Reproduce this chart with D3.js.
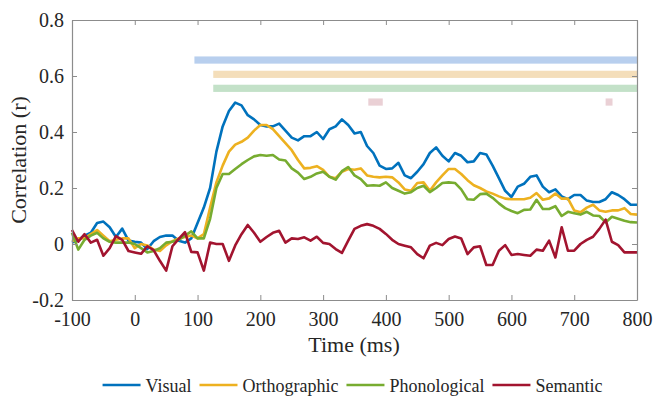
<!DOCTYPE html>
<html><head><meta charset="utf-8">
<script src="https://cdn.jsdelivr.net/npm/d3@7"></script>
<style>
body{margin:0;background:#fff}
svg{display:block}
text{font-family:"Liberation Serif","Times New Roman",serif;fill:#262626}
</style>
</head><body>
<svg id="chart" width="653" height="396"></svg>
<script>
// ---------- DATA ----------
const times = [-100,-90,-80,-70,-60,-50,-40,-30,-20,-10,0,10,20,30,40,50,60,70,80,90,
100,110,120,130,140,150,160,170,180,190,200,210,220,230,240,250,260,270,280,290,
300,310,320,330,340,350,360,370,380,390,400,410,420,430,440,450,460,470,480,490,
500,510,520,530,540,550,560,570,580,590,600,610,620,630,640,650,660,670,680,690,
700,710,720,730,740,750,760,770,780,790,800];

const visual = [0.005,0.015,0.03,0.04,0.075,0.08,0.06,0.025,0.055,0.012,0.008,0.005,-0.018,0.01,0.025,0.03,0.03,0.012,0.005,0.02,
0.075,0.13,0.2,0.33,0.42,0.475,0.505,0.495,0.46,0.445,0.425,0.42,0.42,0.43,0.405,0.38,0.37,0.385,0.385,0.40,
0.375,0.41,0.42,0.445,0.425,0.395,0.40,0.35,0.325,0.28,0.268,0.27,0.29,0.245,0.235,0.258,0.285,0.325,0.345,0.315,
0.295,0.325,0.315,0.292,0.295,0.325,0.32,0.28,0.235,0.19,0.168,0.205,0.215,0.24,0.245,0.205,0.185,0.195,0.17,0.16,
0.175,0.175,0.155,0.15,0.15,0.16,0.185,0.175,0.16,0.14,0.14];

const orthographic = [0.01,0.02,0.02,0.035,0.05,0.03,0.01,0.015,0.02,0.02,-0.015,0.0,-0.005,-0.02,-0.025,-0.005,0.01,0.02,0.025,0.03,
0.02,0.035,0.13,0.22,0.28,0.33,0.355,0.365,0.38,0.405,0.425,0.425,0.41,0.385,0.36,0.335,0.3,0.27,0.272,0.278,
0.265,0.24,0.235,0.258,0.268,0.265,0.27,0.245,0.24,0.238,0.24,0.238,0.22,0.195,0.19,0.218,0.22,0.19,0.22,0.245,
0.268,0.268,0.25,0.228,0.21,0.2,0.188,0.18,0.17,0.162,0.16,0.16,0.16,0.165,0.182,0.158,0.163,0.18,0.162,0.162,
0.12,0.113,0.13,0.14,0.12,0.115,0.12,0.12,0.128,0.107,0.105];

const phonological = [0.04,-0.02,0.015,0.03,0.04,0.02,0.008,0.005,0.005,0.005,0.0,-0.015,-0.03,-0.025,-0.015,0.005,0.008,0.015,0.03,0.045,
0.02,0.02,0.09,0.2,0.25,0.25,0.268,0.285,0.3,0.313,0.318,0.315,0.318,0.302,0.298,0.27,0.255,0.232,0.24,0.252,
0.258,0.24,0.23,0.26,0.275,0.245,0.232,0.208,0.21,0.208,0.22,0.2,0.19,0.18,0.185,0.2,0.208,0.185,0.2,0.218,
0.22,0.218,0.195,0.16,0.158,0.178,0.18,0.165,0.145,0.128,0.118,0.11,0.122,0.123,0.158,0.125,0.125,0.135,0.1,0.115,
0.11,0.105,0.115,0.102,0.1,0.077,0.097,0.09,0.083,0.078,0.077];

const semantic = [0.05,0.008,0.035,0.005,0.015,-0.042,-0.015,0.028,0.015,-0.025,-0.03,-0.035,-0.008,-0.022,-0.06,-0.095,-0.008,0.018,0.042,-0.028,
-0.03,-0.095,0.005,0.0,0.0,-0.06,-0.005,0.035,0.068,0.04,0.008,0.025,0.04,0.047,0.005,0.02,0.018,0.024,0.012,0.026,
0.004,0.0,-0.018,-0.032,0.012,0.054,0.065,0.071,0.065,0.054,0.036,0.015,0.0,-0.006,-0.012,-0.036,-0.051,-0.006,0.004,-0.004,
0.018,0.027,0.02,-0.036,-0.012,-0.008,-0.075,-0.075,-0.024,-0.004,-0.039,-0.036,-0.039,-0.042,-0.02,-0.024,0.012,-0.048,0.06,-0.024,
-0.024,0.0,0.015,0.026,0.054,0.087,0.008,-0.004,-0.03,-0.03,-0.03];

const seriesNames = ["Visual","Orthographic","Phonological","Semantic"];

// significance intervals (ms)
const sigVisual = [[95,800]];
const sigOrthographic = [[125,800]];
const sigPhonological = [[125,800]];
const sigSemantic = [[372,395],[750,761]];

const xTicks = [-100,0,100,200,300,400,500,600,700,800];
const yTicks = [-0.2,0,0.2,0.4,0.6,0.8];
const yTickLabels = ["-0.2","0","0.2","0.4","0.6","0.8"];

// ---------- STYLE ----------
const lineColors = ["#0072BD","#EDB120","#77AC30","#A2142F"];
const barColors = ["#b8cfee","#f4deba","#c3e1c8","#ead0d5"];
const barLevels = [0.657,0.606,0.556,0.507];
const axisColor = "#8c8c8c";
const serif = '"Liberation Serif","Times New Roman",serif';

const svg = d3.select("#chart");
const x = d3.scaleLinear().domain([-100,800]).range([72,637]);
const y = d3.scaleLinear().domain([-0.2,0.8]).range([300,20]);

// significance bars
const sigAll = [sigVisual, sigOrthographic, sigPhonological, sigSemantic];
sigAll.forEach((ints,i)=>{
  svg.append("g").selectAll("rect").data(ints).join("rect")
    .attr("x", d=>x(d[0])).attr("width", d=>x(d[1])-x(d[0]))
    .attr("y", y(barLevels[i])-3.6).attr("height", 7.2)
    .attr("fill", barColors[i]);
});

// lines
const allSeries = [visual, orthographic, phonological, semantic];
const line = d3.line().x((d,i)=>x(times[i])).y(d=>y(d));
allSeries.forEach((s,i)=>{
  svg.append("path").datum(s).attr("d", line)
    .attr("fill","none").attr("stroke", lineColors[i])
    .attr("stroke-width", 2.6).attr("stroke-linejoin","round");
});

// axes
function styleAxis(g){
  g.attr("font-family", serif).attr("font-size", 20);
  g.select(".domain").attr("stroke", axisColor).attr("stroke-width",1.2);
  g.selectAll(".tick line").attr("stroke", axisColor).attr("stroke-width",1);
  g.selectAll(".tick text").attr("fill","#262626").style("font-size","20px").style("font-family", serif);
}
svg.append("g").attr("transform","translate(0,300)")
  .call(d3.axisBottom(x).tickValues(xTicks).tickSizeInner(-5).tickSizeOuter(0).tickPadding(12)
    .tickFormat(d => String(d)))
  .call(styleAxis);
svg.append("g").attr("transform","translate(0,20)")
  .call(d3.axisTop(x).tickValues(xTicks).tickSizeInner(-5).tickSizeOuter(0).tickFormat(""))
  .call(styleAxis);
svg.append("g").attr("transform","translate(72,0)")
  .call(d3.axisLeft(y).tickValues(yTicks).tickSizeInner(-5).tickSizeOuter(0).tickPadding(8)
    .tickFormat((d,i) => yTickLabels[i]))
  .call(styleAxis);
svg.append("g").attr("transform","translate(637,0)")
  .call(d3.axisRight(y).tickValues(yTicks).tickSizeInner(-5).tickSizeOuter(0).tickFormat(""))
  .call(styleAxis);

// axis labels
svg.append("text").attr("x",354).attr("y",352).attr("text-anchor","middle")
  .style("font-size","22px").text("Time (ms)");
svg.append("text").attr("transform","translate(26,160) rotate(-90)").attr("text-anchor","middle")
  .style("font-size","22px").text("Correlation (r)");

// legend
const lg = svg.append("g");
let cx = 0;
seriesNames.forEach((n,i)=>{
  const g = lg.append("g");
  g.append("line").attr("x1",0).attr("x2",38).attr("y1",0).attr("y2",0)
    .attr("stroke",lineColors[i]).attr("stroke-width",2.6);
  const t = g.append("text").attr("x",43).attr("y",6.5).style("font-size","18px").text(n);
  const w = 43 + t.node().getComputedTextLength();
  g.attr("transform",`translate(${cx},0)`);
  cx += w + 8;
});
const totalW = cx - 8;
lg.attr("transform",`translate(${352.5 - totalW/2},385)`);
</script>
</body></html>
